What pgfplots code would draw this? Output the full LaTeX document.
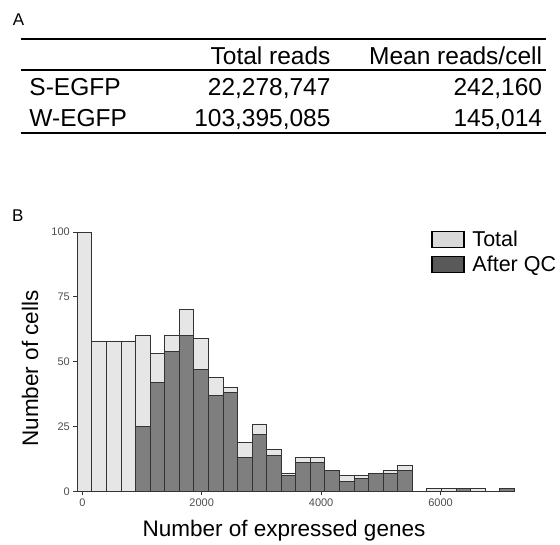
\documentclass[border=0pt]{standalone}
\usepackage{fontspec}
\setmainfont{Liberation Sans}
\usepackage{pgfplots}
\usepackage{pgfplotstable}
\pgfplotsset{compat=1.18}
\definecolor{barlight}{HTML}{E6E6E6}
\definecolor{bardark}{HTML}{7F7F7F}
\definecolor{keylight}{HTML}{D9D9D9}
\definecolor{keydark}{HTML}{595959}
\definecolor{edge}{HTML}{333333}
\definecolor{ticktext}{HTML}{4D4D4D}
\newcommand\tabfont{\fontsize{24.5bp}{29bp}\selectfont}

% bin left edges (width 244), counts before and after QC
\pgfplotstableread{
x total qc
-84 100 0
160 58 0
404 58 0
648 58 0
892 60 25
1136 53 42
1380 60 54
1624 70 60
1868 59 47
2112 44 37
2356 40 38
2600 19 13
2844 26 22
3088 16 14
3332 7 6
3576 13 11
3820 13 11
4064 8 8
4308 6 4
4552 6 5
4796 7 7
5040 8 7
5284 10 8
5528 0 0
5772 1 0
6016 1 0
6260 1 1
6504 1 0
6748 0 0
6992 1 1
7236 1 1
}\histdata

\begin{document}
\begin{tikzpicture}[x=1bp,y=1bp]
\path[use as bounding box] (0,0) rectangle (560,-545);

% panel A: table
\node[anchor=base west, inner sep=0pt, font=\fontsize{17bp}{20bp}\selectfont] at (12.7,-26) {A};
\draw[line width=2bp] (20.7,-39.3) -- (545.7,-39.3);
\draw[line width=2bp] (20.7,-70) -- (545.7,-70);
\draw[line width=2bp] (20.7,-133.3) -- (545.7,-133.3);
\begin{scope}[every node/.style={inner sep=0pt, font=\tabfont}]
\node[anchor=base east] at (330.7,-65) {Total reads};
\node[anchor=base east] at (542.3,-65) {Mean reads/cell};
\node[anchor=base west] at (29.3,-96) {S-EGFP};
\node[anchor=base east] at (330.7,-96) {22,278,747};
\node[anchor=base east] at (542.3,-96) {242,160};
\node[anchor=base west] at (29.3,-127) {W-EGFP};
\node[anchor=base east] at (330.7,-127) {103,395,085};
\node[anchor=base east] at (542.3,-127) {145,014};
\end{scope}

% panel B: histogram
\node[anchor=base west, inner sep=0pt, font=\fontsize{17bp}{20bp}\selectfont] at (12,-221.7) {B};
\begin{axis}[
    at={(77.3bp,-491.4bp)}, anchor=south west,
    scale only axis, width=437bp, height=259.4bp,
    xmin=-84, xmax=7236, ymin=0, ymax=100,
    enlargelimits=false, clip=false,
    axis x line=bottom, axis y line=left,
    axis line style={-, black, line width=0.8bp},
    xtick={0,2000,4000,6000}, ytick={0,25,50,75,100},
    tick align=outside, major tick length=4bp,
    tick style={edge, line width=0.8bp},
    ticklabel style={font=\fontsize{11bp}{13bp}\selectfont, text=ticktext},
    /pgf/number format/assume math mode=true,
    /pgf/number format/1000 sep={},
    xlabel={Number of expressed genes},
    ylabel={Number of cells},
    label style={font=\fontsize{22.5bp}{26bp}\selectfont, inner sep=0pt},
    xlabel style={at={(axis description cs:0.473,-0.173)}, anchor=base},
    ylabel style={at={(axis description cs:-0.0899,0.474)}, anchor=base},
    legend cell align=left,
    legend style={at={(0.810,1.006)}, anchor=north west, draw=none, fill=none,
        inner sep=0pt, row sep=7.8bp, column sep=7.5bp,
        nodes={inner sep=0pt},
        font=\fontsize{21.5bp}{25bp}\selectfont},
]
\addplot[ybar interval, fill=barlight, draw=edge, line width=0.9bp,
    legend image code/.code={\draw[fill=keylight, draw=black, line width=1.5bp] (0bp,-8bp) rectangle (32bp,8bp);}]
    table[x=x, y=total] {\histdata};
\addplot[ybar interval, fill=bardark, draw=edge, line width=0.9bp,
    legend image code/.code={\draw[fill=keydark, draw=black, line width=1.5bp] (0bp,-8bp) rectangle (32bp,8bp);}]
    table[x=x, y=qc] {\histdata};
\legend{Total, After QC}
\end{axis}
\end{tikzpicture}
\end{document}
